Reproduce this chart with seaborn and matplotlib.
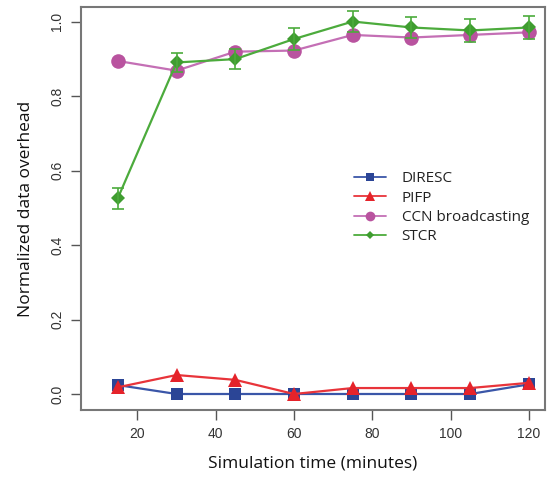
import matplotlib
matplotlib.use("Agg")
import matplotlib.pyplot as plt
import seaborn as sns
import pandas as pd
from matplotlib.lines import Line2D

sns.set_theme(style="white")
plt.rcParams['font.family'] = ['Open Sans', 'DejaVu Sans']

time = [15, 30, 45, 60, 75, 90, 105, 120]
diresc = [0.024, 0.0, 0.0, 0.0, 0.0, 0.0, 0.0, 0.026]
pifp = [0.018, 0.051, 0.038, 0.0, 0.016, 0.016, 0.016, 0.030]
ccn = [0.895, 0.869, 0.920, 0.923, 0.965, 0.958, 0.965, 0.972]
stcr = [0.526, 0.891, 0.900, 0.954, 1.001, 0.985, 0.977, 0.985]
stcr_err = [0.028, 0.026, 0.026, 0.030, 0.027, 0.027, 0.030, 0.030]

names = ["DIRESC", "PIFP", "CCN broadcasting", "STCR"]
values = [diresc, pifp, ccn, stcr]

df = pd.concat([pd.DataFrame({"time": time, "value": v, "series": n})
                for n, v in zip(names, values)], ignore_index=True)

line_colors = {"DIRESC": "#3a56a8", "PIFP": "#e8343a", "CCN broadcasting": "#c46fb5", "STCR": "#4cab3c"}
marker_colors = {"DIRESC": "#2b4596", "PIFP": "#e5232a", "CCN broadcasting": "#b9539f", "STCR": "#3f9d30"}
markers = {"DIRESC": "s", "PIFP": "^", "CCN broadcasting": "o", "STCR": "D"}
msizes = {"DIRESC": 9, "PIFP": 10, "CCN broadcasting": 10.5, "STCR": 7.5}

fig = plt.figure(figsize=(5.52, 4.84), dpi=100)
ax = fig.add_axes([0.1467, 0.1529, 0.8406, 0.8326])

for i, n in enumerate(names):
    sub = df[df["series"] == n]
    sns.lineplot(data=sub, x="time", y="value", ax=ax, color=line_colors[n],
                 linewidth=1.6, marker=markers[n], markersize=msizes[n],
                 markerfacecolor=marker_colors[n], markeredgecolor=marker_colors[n],
                 markeredgewidth=0, zorder=3 + i, legend=False)

ax.errorbar(time, stcr, yerr=stcr_err, fmt="none", ecolor=line_colors["STCR"],
            elinewidth=1.2, capsize=4, capthick=1.2, zorder=7)

ax.set_xlim(5.6, 124.1)
ax.set_ylim(-0.043, 1.04)
ax.set_xticks([20, 40, 60, 80, 100, 120])
ax.set_yticks([0.0, 0.2, 0.4, 0.6, 0.8, 1.0])
ax.set_yticklabels(["0.0", "0.2", "0.4", "0.6", "0.8", "1.0"], rotation=90, va="center",
                   family=["Liberation Sans"])
ax.set_xticklabels(["20", "40", "60", "80", "100", "120"], family=["Liberation Sans"])
ax.tick_params(axis="both", which="both", direction="out", length=7, width=1,
               color="#555555", labelsize=10, labelcolor="#333333", pad=5,
               bottom=True, left=True)
for s in ax.spines.values():
    s.set_color("#777777")
    s.set_linewidth(1.5)

ax.set_xlabel("Simulation time (minutes)", fontsize=12.5, color="#111111", labelpad=11)
ax.set_ylabel("Normalized data overhead", fontsize=12.5, color="#111111", labelpad=12)

handles = [Line2D([0], [0], color=line_colors[n], linewidth=1.3, marker=markers[n],
                  markersize={"DIRESC": 6, "PIFP": 6.5, "CCN broadcasting": 7, "STCR": 4.5}[n],
                  markerfacecolor=marker_colors[n], markeredgewidth=0)
           for n in names]
leg = ax.legend(handles, names, loc="upper left", bbox_to_anchor=(0.576, 0.607),
                frameon=False, fontsize=11, handlelength=2.1, handletextpad=1.0,
                labelspacing=0.28, borderaxespad=0)
for t in leg.get_texts():
    t.set_color("#222222")

fig.savefig("out.png", dpi=100)
